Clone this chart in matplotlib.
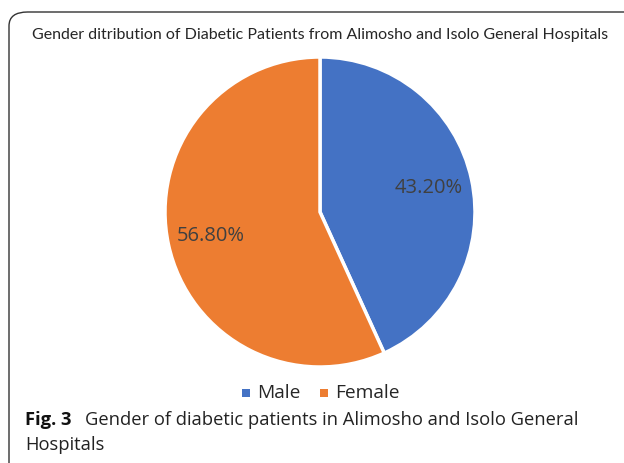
import matplotlib.pyplot as plt
from matplotlib.patches import FancyBboxPatch, Rectangle

labels = ["Male", "Female"]
shares = [43.20, 56.80]
colors = ["#4472C4", "#ED7D31"]

W, H = 624, 463
fig = plt.figure(figsize=(W / 100, H / 100), dpi=100)
fig.patch.set_facecolor("white")

# rounded frame around the chart, running off the right/bottom edge
frame = FancyBboxPatch((9 / W, -0.2), 1.2, (H - 12) / H + 0.2,
                       boxstyle="round,pad=0,rounding_size=0.03",
                       transform=fig.transFigure, fill=False,
                       edgecolor="#333333", linewidth=1.0)
fig.patches.append(frame)

cx, cy, r = 320, 212, 155
ax = fig.add_axes([(cx - r) / W, (H - cy - r) / H, 2 * r / W, 2 * r / H])
wedges, texts, autotexts = ax.pie(
    shares, colors=colors, startangle=90, counterclock=False,
    autopct="%.2f%%", pctdistance=0.72,
    wedgeprops=dict(edgecolor="white", linewidth=2.5),
    textprops=dict(fontsize=14.5, color="#404040", family="Open Sans"))
ax.set_xlim(-1, 1)
ax.set_ylim(-1, 1)
ax.set_aspect("equal")
ax.axis("off")

fig.text(320 / W, 1 - 35 / H,
         "Gender ditribution of Diabetic Patients from Alimosho and Isolo General Hospitals",
         ha="center", va="center", fontsize=11.5, color="#262626", family="Lato")

# legend
leg_y = 1 - 393 / H
for x0, lab, col in [(242, labels[0], colors[0]), (320, labels[1], colors[1])]:
    fig.patches.append(Rectangle((x0 / W, leg_y - 4 / H), 8 / W, 8 / H,
                                 transform=fig.transFigure, facecolor=col,
                                 edgecolor="none"))
    fig.text((x0 + 15) / W, leg_y, lab, ha="left", va="center",
             fontsize=13.8, color="#262626", family="Open Sans")

# caption
fig.text(25 / W, 1 - 420 / H, "Fig. 3", ha="left", va="center",
         fontsize=13.2, fontweight="bold", color="#111111", family="Open Sans")
fig.text(85 / W, 1 - 420 / H,
         "Gender of diabetic patients in Alimosho and Isolo General",
         ha="left", va="center", fontsize=13.2, color="#222222", family="Open Sans")
fig.text(25 / W, 1 - 445 / H, "Hospitals", ha="left", va="center",
         fontsize=13.2, color="#222222", family="Open Sans")

fig.savefig("out.png", dpi=100)
